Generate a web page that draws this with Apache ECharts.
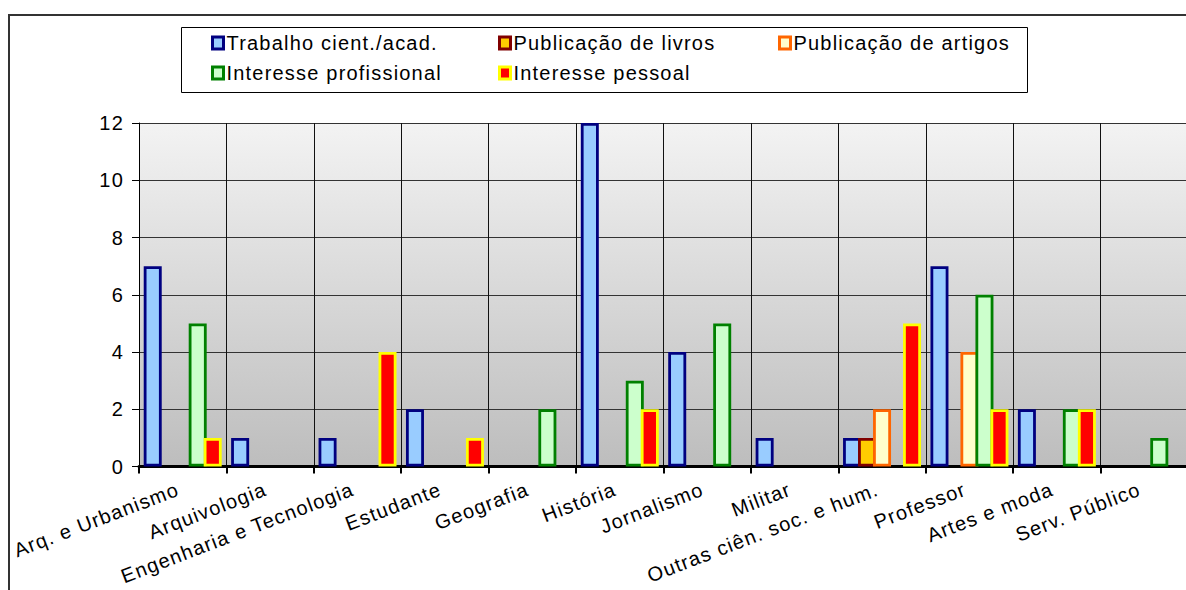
<!DOCTYPE html>
<html>
<head>
<meta charset="utf-8">
<script src="https://cdn.jsdelivr.net/npm/echarts@6/dist/echarts.min.js"></script>
<style>
  html, body { margin: 0; padding: 0; background: #ffffff; }
  #chart { width: 1186px; height: 590px; }
  /* slightly looser tracking for all chart text */
  #chart svg text { letter-spacing: 1.2px; }
</style>
</head>
<body>
<div id="chart"></div>
<script>
// Categories along the horizontal axis
const categories = [
  'Arq. e Urbanismo', 'Arquivologia', 'Engenharia e Tecnologia', 'Estudante',
  'Geografia', 'História', 'Jornalismo', 'Militar',
  'Outras ciên. soc. e hum.', 'Professor', 'Artes e moda', 'Serv. Público'
];

// Series names
const seriesNames = [
  'Trabalho cient./acad.', 'Publicação de livros', 'Publicação de artigos',
  'Interesse profissional', 'Interesse pessoal'
];

// Counts per category, one array per series
const trabalhoCient = [7, 1, 1, 2, 0, 12, 4, 1, 1, 7, 2, 0];
const publicacaoLivros = [0, 0, 0, 0, 0, 0, 0, 0, 1, 0, 0, 0];
const publicacaoArtigos = [0, 0, 0, 0, 0, 0, 0, 0, 2, 4, 0, 0];
const interesseProfissional = [5, 0, 0, 0, 2, 3, 5, 0, 0, 6, 2, 1];
const interessePessoal = [1, 0, 4, 1, 0, 2, 0, 0, 5, 2, 2, 0];

// Value axis ticks
const yTicks = [0, 2, 4, 6, 8, 10, 12];

const seriesValues = [trabalhoCient, publicacaoLivros, publicacaoArtigos,
                      interesseProfissional, interessePessoal];

// Fill / outline per series
const fills = ['#99CCFF', '#FFCC00', '#FFFFCC', '#CCFFCC', '#FF0000'];
const outlines = ['#000080', '#800000', '#FF6600', '#008000', '#FFFF00'];

const FONT = 'Liberation Sans, Arial, sans-serif';

const chart = echarts.init(document.getElementById('chart'), null, { renderer: 'svg' });

const series = seriesNames.map((name, i) => ({
  name: name,
  type: 'bar',
  barWidth: 18,
  barGap: '-16.7%',
  data: seriesValues[i].map(v => (v === 0 ? '-' : v)),
  itemStyle: {
    color: fills[i],
    borderColor: outlines[i],
    borderWidth: 2.8
  },
  emphasis: { disabled: true },
  animation: false
}));

// Legend entries laid out in two rows, three columns
const legendPos = [[211, 33], [498, 33], [778, 33], [211, 63], [498, 63]];
const legends = seriesNames.map((name, i) => ({
  data: [name],
  left: legendPos[i][0],
  top: legendPos[i][1],
  padding: 0,
  icon: 'rect',
  itemWidth: 11,
  itemHeight: 12,
  itemGap: 0,
  selectedMode: false,
  itemStyle: { borderWidth: 3 },
  textStyle: { fontFamily: FONT, fontSize: 20, color: '#000', padding: [0, 0, 0, -2] }
}));

chart.setOption({
  animation: false,
  backgroundColor: '#ffffff',
  legend: legends,
  grid: {
    left: 139,
    top: 123,
    width: 1049,
    height: 343.5,
    outerBoundsMode: 'none',
    containLabel: false,
    show: true,
    borderWidth: 0,
    backgroundColor: {
      type: 'linear', x: 0, y: 0, x2: 0, y2: 1,
      colorStops: [
        { offset: 0, color: '#f3f3f3' },
        { offset: 1, color: '#bdbdbd' }
      ]
    }
  },
  xAxis: {
    type: 'category',
    data: categories,
    boundaryGap: true,
    axisLine: { show: true, lineStyle: { color: '#000', width: 3 } },
    axisTick: { show: true, length: 7, lineStyle: { color: '#000', width: 2 }, interval: 0 },
    splitLine: { show: true, interval: 0, lineStyle: { color: '#111', width: 1 } },
    axisLabel: {
      interval: 0,
      rotate: 21,
      margin: 20,
      padding: [0, 5, 0, 0],
      fontFamily: FONT,
      fontSize: 20,
      color: '#000'
    }
  },
  yAxis: {
    type: 'value',
    min: yTicks[0],
    max: yTicks[yTicks.length - 1],
    interval: yTicks[1] - yTicks[0],
    axisLine: { show: true, lineStyle: { color: '#000', width: 1 } },
    axisTick: { show: true, length: 7, lineStyle: { color: '#000', width: 1 } },
    splitLine: { show: true, lineStyle: { color: '#333', width: 1 } },
    axisLabel: {
      margin: 15,
      fontFamily: FONT,
      fontSize: 20,
      color: '#000'
    }
  },
  graphic: [
    {
      type: 'rect',
      silent: true,
      shape: { x: 9, y: 15, width: 1400, height: 800 },
      style: { fill: 'none', stroke: '#333', lineWidth: 2 }
    },
    {
      type: 'rect',
      silent: true,
      shape: { x: 181.5, y: 27.5, width: 846, height: 65 },
      style: { fill: '#fff', stroke: '#000', lineWidth: 1 },
      z: -1
    }
  ],
  series: series
});
</script>
</body>
</html>
